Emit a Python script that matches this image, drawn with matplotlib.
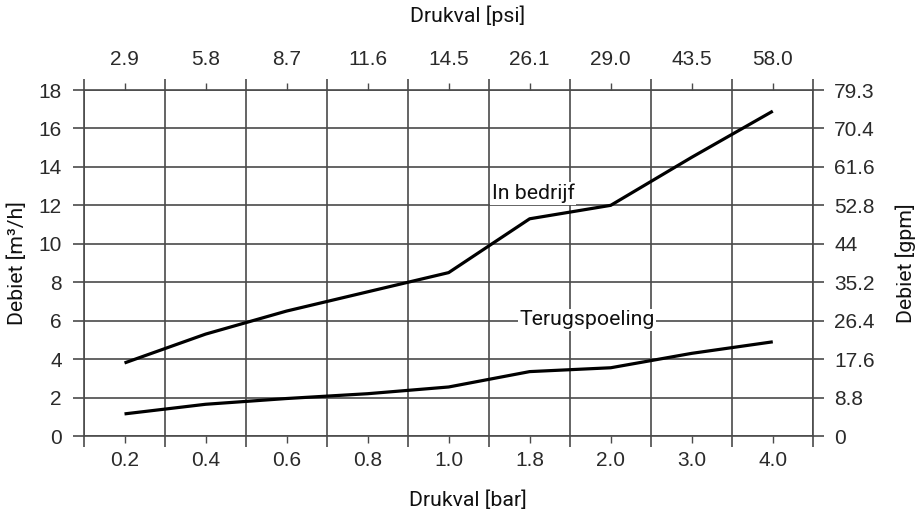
import matplotlib
matplotlib.use("Agg")
import matplotlib.pyplot as plt
import numpy as np

# pressure categories (bar) and matching psi labels
bar_labels = ["0.2", "0.4", "0.6", "0.8", "1.0", "1.8", "2.0", "3.0", "4.0"]
psi_labels = ["2.9", "5.8", "8.7", "11.6", "14.5", "26.1", "29.0", "43.5", "58.0"]

# flow rates [m3/h]
in_bedrijf = [3.8, 5.3, 6.5, 7.5, 8.5, 11.3, 12.0, 14.5, 16.9]
terugspoeling = [1.15, 1.65, 1.95, 2.2, 2.55, 3.35, 3.55, 4.3, 4.9]

# left and right y tick labels
m3h_ticks = [0, 2, 4, 6, 8, 10, 12, 14, 16, 18]
gpm_labels = ["0", "8.8", "17.6", "26.4", "35.2", "44", "52.8", "61.6", "70.4", "79.3"]

grid_col = "#4a4a4a"
tick_col = "#2a2a2a"
tick_font = "Liberation Sans"
tick_size = 15
lab_font = "Roboto"
lab_size = 15.3

fig = plt.figure(figsize=(9.22, 5.18), dpi=100)
ax = fig.add_axes([84 / 922, 82 / 518, (813.3 - 84) / 922, (436 - 90) / 518])

x = np.arange(len(bar_labels))
ax.plot(x, in_bedrijf, color="black", lw=2.3, zorder=3, solid_capstyle="butt")
ax.plot(x, terugspoeling, color="black", lw=2.3, zorder=3, solid_capstyle="butt")

ax.set_xlim(-0.5, len(bar_labels) - 0.5)
ax.set_ylim(0, 18)

# right axis in gpm
ay = ax.twinx()
ay.set_ylim(0, 18)
ay.set_yticks(m3h_ticks)
ay.set_yticklabels(gpm_labels, fontfamily=tick_font, fontsize=tick_size, color=tick_col)
ay.tick_params(axis="y", direction="out", length=8, width=1.2, color=grid_col, pad=7)
for s in ay.spines.values():
    s.set_visible(False)

# top axis in psi
at = ax.twiny()
at.set_xlim(ax.get_xlim())
at.set_xticks(x)
at.set_xticklabels(psi_labels, fontfamily=tick_font, fontsize=tick_size, color=tick_col)
at.tick_params(axis="x", length=0, pad=15)
for s in at.spines.values():
    s.set_visible(False)

# boundaries = major ticks (grid), centers = minor ticks (labels)
ax.set_xticks(np.arange(-0.5, len(bar_labels)))
ax.set_xticklabels([])
ax.set_xticks(x, minor=True)
ax.set_xticklabels(bar_labels, minor=True, fontfamily=tick_font, fontsize=tick_size, color=tick_col)
ax.set_yticks(m3h_ticks)
ax.set_yticklabels([str(t) for t in m3h_ticks], fontfamily=tick_font, fontsize=tick_size, color=tick_col)

ax.tick_params(axis="x", which="major", direction="out", length=8, width=1.2,
               color=grid_col, top=True, bottom=True)
ax.tick_params(axis="x", which="minor", direction="out", length=5, width=1.0,
               color=grid_col, top=True, bottom=True, labeltop=False, pad=6)
ax.tick_params(axis="y", which="major", direction="out", length=8, width=1.2,
               color=grid_col, pad=8)
ax.grid(True, which="major", color=grid_col, lw=1.2)
ax.set_axisbelow(True)
for s in ax.spines.values():
    s.set_color(grid_col)
    s.set_linewidth(1.2)

# curve labels
box = dict(facecolor="white", edgecolor="none", pad=1)
ax.text(4.53, 12.62, "In bedrijf", fontfamily=lab_font, fontsize=lab_size, color="#111111",
        ha="left", va="center", bbox=box, zorder=4)
ax.text(4.87, 6.04, "Terugspoeling", fontfamily=lab_font, fontsize=lab_size, color="#111111",
        ha="left", va="center", bbox=box, zorder=4)

# axis titles
fig.text(468 / 922, 1 - 16 / 518, "Drukval [psi]", fontfamily=lab_font, fontsize=lab_size,
         ha="center", va="center", color="#111111")
fig.text(468 / 922, 1 - 500 / 518, "Drukval [bar]", fontfamily=lab_font, fontsize=lab_size,
         ha="center", va="center", color="#111111")
fig.text(17 / 922, 1 - 263 / 518, "Debiet [m³/h]", fontfamily=lab_font, fontsize=lab_size,
         ha="center", va="center", rotation=90, color="#111111")
fig.text(906 / 922, 1 - 263 / 518, "Debiet [gpm]", fontfamily=lab_font, fontsize=lab_size,
         ha="center", va="center", rotation=90, color="#111111")

fig.savefig("out.png", dpi=100)
